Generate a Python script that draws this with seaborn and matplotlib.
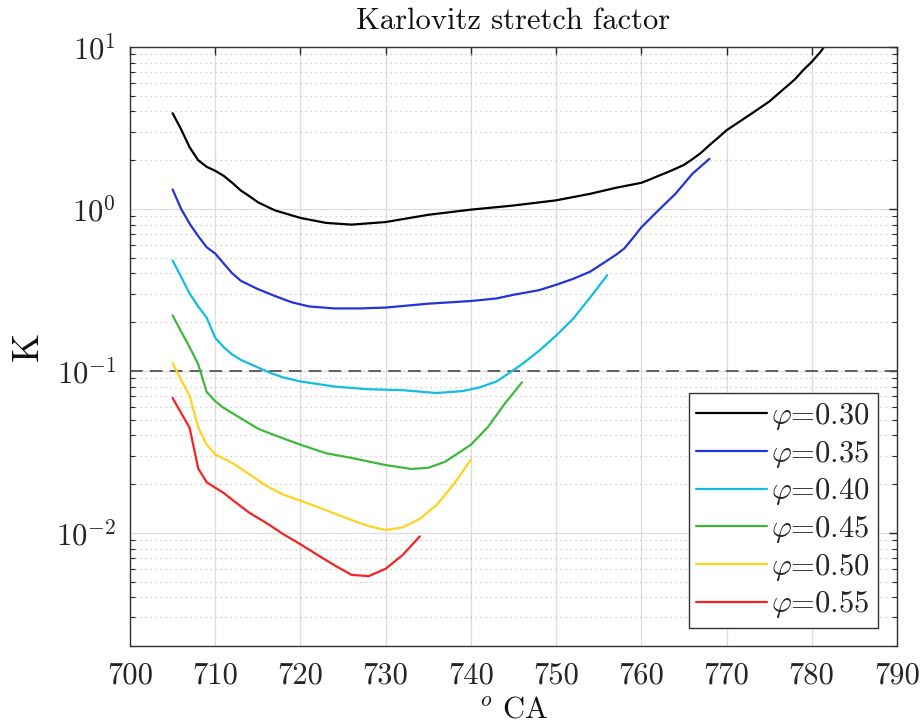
import numpy as np
import pandas as pd
import matplotlib
matplotlib.use("Agg")
import matplotlib.pyplot as plt
import seaborn as sns
from matplotlib.lines import Line2D

# ---------------- data ----------------
phi_labels = ["0.30", "0.35", "0.40", "0.45", "0.50", "0.55"]

ca_030 = [705, 706, 707, 708, 709, 710, 711, 712, 713, 714, 715, 717, 720, 723, 726,
          730, 735, 740, 745, 750, 754, 757, 760, 761, 762, 763, 764, 765, 766, 767, 768,
          769, 770, 773, 775, 778, 779, 780, 781, 782]
k_030 = [3.9, 3.1, 2.4, 2.0, 1.82, 1.72, 1.6, 1.45, 1.3, 1.2, 1.1, 0.98, 0.88, 0.82, 0.80,
         0.83, 0.92, 0.99, 1.05, 1.13, 1.24, 1.35, 1.45, 1.52, 1.6, 1.68, 1.77, 1.87, 2.03,
         2.22, 2.48, 2.75, 3.06, 3.9, 4.6, 6.3, 7.2, 8.1, 9.3, 11.0]

ca_035 = [705, 706, 707, 708, 709, 710, 711, 712, 713, 715, 717, 719, 721, 724, 727,
          730, 735, 740, 743, 745, 748, 750, 752, 754, 756, 757, 758, 759, 760, 762, 764,
          766, 768]
k_035 = [1.32, 1.0, 0.81, 0.68, 0.58, 0.53, 0.46, 0.40, 0.36, 0.32, 0.29, 0.265, 0.25,
         0.243, 0.243, 0.246, 0.26, 0.27, 0.28, 0.295, 0.315, 0.34, 0.37, 0.41, 0.48, 0.52,
         0.57, 0.66, 0.77, 0.98, 1.24, 1.65, 2.04]

ca_040 = [705, 706, 707, 708, 709, 710, 711, 712, 713, 715, 716.5, 718, 720, 724, 728,
          732, 736, 739, 741, 743, 744.5, 746, 748, 750, 752, 754, 756]
k_040 = [0.48, 0.38, 0.30, 0.25, 0.213, 0.16, 0.14, 0.126, 0.117, 0.105, 0.097, 0.091,
         0.086, 0.080, 0.077, 0.076, 0.073, 0.075, 0.079, 0.086, 0.097, 0.11, 0.133, 0.165,
         0.21, 0.284, 0.39]

ca_045 = [705, 706, 707, 708, 709, 710, 711, 713, 715, 717, 720, 723, 726, 730, 733,
          735, 737, 740, 742, 744, 746]
k_045 = [0.22, 0.175, 0.14, 0.11, 0.074, 0.065, 0.059, 0.051, 0.044, 0.040, 0.035, 0.031,
         0.029, 0.0262, 0.0248, 0.0252, 0.0275, 0.035, 0.045, 0.063, 0.085]

ca_050 = [705, 706, 707, 708, 709, 710, 712, 714, 716, 718, 720, 723, 726, 728, 730,
          732, 734, 736, 738, 740]
k_050 = [0.112, 0.088, 0.07, 0.045, 0.035, 0.0305, 0.027, 0.023, 0.0195, 0.0172, 0.0158,
         0.0138, 0.012, 0.011, 0.0104, 0.0108, 0.0122, 0.0149, 0.020, 0.0283]

ca_055 = [705, 706, 707, 708, 709, 710, 711, 712, 714, 716, 718, 720, 722, 724, 726,
          728, 730, 732, 734]
k_055 = [0.068, 0.055, 0.0444, 0.025, 0.0205, 0.019, 0.0176, 0.016, 0.0133, 0.0115,
         0.0098, 0.0085, 0.0073, 0.0063, 0.0055, 0.0054, 0.006, 0.0073, 0.0095]

threshold = 0.1
x_ticks = [700, 710, 720, 730, 740, 750, 760, 770, 780, 790]
colors = ["#000000", "#2233d9", "#11bde0", "#3fb83a", "#ffd21f", "#f42222"]

series = [(ca_030, k_030), (ca_035, k_035), (ca_040, k_040),
          (ca_045, k_045), (ca_050, k_050), (ca_055, k_055)]
frames = []
for lab, (xs, ys) in zip(phi_labels, series):
    frames.append(pd.DataFrame({"CA": xs, "K": ys, "phi": r"$\varphi$=" + lab}))
df = pd.concat(frames, ignore_index=True)
hue_order = [r"$\varphi$=" + l for l in phi_labels]
palette = dict(zip(hue_order, colors))

# ---------------- style ----------------
sns.set_theme(style="white")
plt.rcParams["font.family"] = ["serif"]
plt.rcParams["font.serif"] = ["cmr10", "DejaVu Serif"]
plt.rcParams["mathtext.fontset"] = "cm"
plt.rcParams["axes.formatter.use_mathtext"] = True
plt.rcParams["axes.unicode_minus"] = True

fig = plt.figure(figsize=(9.22, 7.25), dpi=100)
ax = fig.add_axes([130 / 922, 1 - 646 / 725, 767 / 922, 599 / 725])

sns.lineplot(data=df, x="CA", y="K", hue="phi", hue_order=hue_order, palette=palette,
             linewidth=1.6, sort=False, estimator=None, ax=ax, legend=False)

ax.axhline(threshold, color="#555555", lw=1.3, ls=(0, (7, 4)), zorder=1)

ax.set_yscale("log")
ax.set_xlim(700, 790)
ax.set_ylim(0.002, 10)
ax.set_xticks(x_ticks)
ax.set_xticklabels([str(t) for t in x_ticks])
ax.set_yticks([1e-2, 1e-1, 1e0, 1e1])
ax.set_yticklabels([r"$10^{-2}$", r"$10^{-1}$", r"$10^{0}$", r"$10^{1}$"])

ax.grid(True, which="major", axis="both", color="#dcdcdc", lw=0.9, ls="-")
ax.grid(True, which="minor", axis="y", color="#c4c4c4", lw=0.9, ls=(0, (1, 3)))
ax.set_axisbelow(True)

ax.tick_params(axis="both", which="major", direction="in", length=6, width=1,
               top=True, right=True, labelsize=22, colors="#262626")
ax.tick_params(axis="y", which="major", pad=10)
ax.tick_params(axis="x", which="major", pad=11.5)
ax.tick_params(axis="y", which="minor", direction="in", length=3.5, width=0.8,
               left=True, right=True)
ax.tick_params(axis="x", which="minor", bottom=False, top=False)
for sp in ax.spines.values():
    sp.set_color("#333333")
    sp.set_linewidth(1.0)
    sp.set_visible(True)

ax.set_title("Karlovitz stretch factor", fontsize=22, pad=13, color="#111111")
ax.set_xlabel(r"$^o$ CA", fontsize=22, labelpad=5, color="#111111")
ax.set_ylabel("K", fontsize=27, labelpad=8, color="#111111")

handles = [Line2D([0], [0], color=c, lw=1.6) for c in colors]
leg = ax.legend(handles, hue_order, loc="lower right", bbox_to_anchor=(0.975, 0.03),
                borderaxespad=0, fontsize=22, frameon=True, fancybox=False,
                framealpha=1, edgecolor="#333333", handlelength=2.3, handletextpad=0.15,
                labelspacing=0.22, borderpad=0.25)
leg.get_frame().set_linewidth(1.0)

fig.savefig("out.png", dpi=100)
